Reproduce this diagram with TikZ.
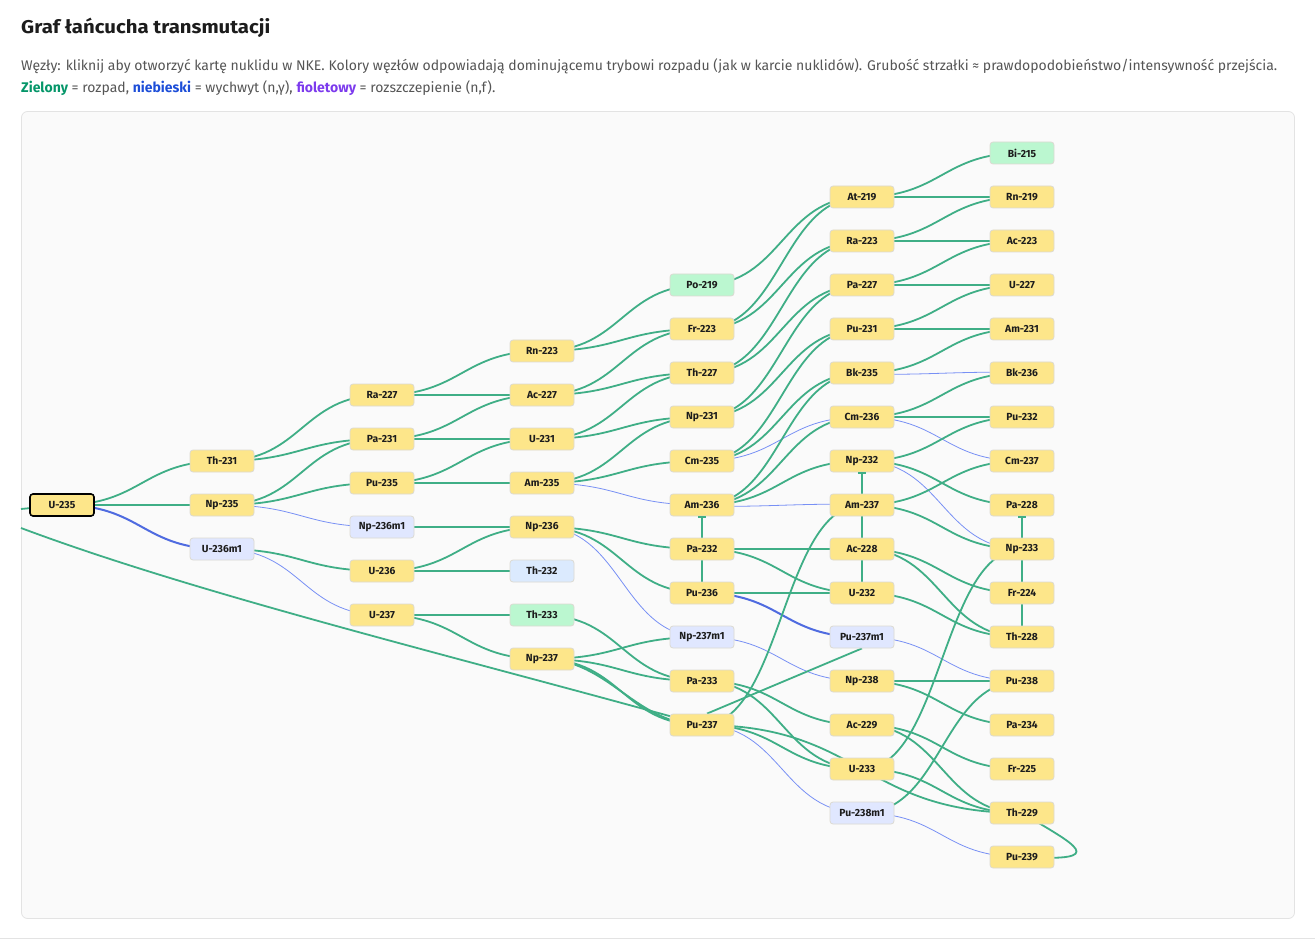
\documentclass[tikz,border=0pt]{standalone}
\usepackage{fontspec}
\setmainfont{Fira Sans}
\usetikzlibrary{calc}
\definecolor{nyel}{HTML}{FDE68A}
\definecolor{ngrn}{HTML}{BBF7D0}
\definecolor{nblu}{HTML}{DBEAFE}
\definecolor{nlav}{HTML}{E0E7FF}
\definecolor{nbrd}{HTML}{DCDAD2}
\definecolor{egrn}{HTML}{3FAE86}
\definecolor{eblu}{HTML}{4F6BE0}
\definecolor{eblt}{HTML}{7890F5}
\definecolor{panelbg}{HTML}{FAFAFA}
\definecolor{panelbd}{HTML}{E3E3E3}
\definecolor{txtgray}{HTML}{555555}
\definecolor{tgreen}{HTML}{059669}
\definecolor{tblue}{HTML}{1D4ED8}
\definecolor{tpurple}{HTML}{7C3AED}
\definecolor{lbl}{HTML}{1C1C1C}
\pgfdeclarelayer{panel}
\pgfdeclarelayer{edges}
\pgfsetlayers{panel,edges,main}
\newcommand\edG[2]{\draw[ge] (#1.center) to[sc] (#2.center);}
\newcommand\edB[2]{\draw[be] (#1.center) to[sc] (#2.center);}
\newcommand\edT[2]{\draw[bt] (#1.center) to[sc] (#2.center);}
\begin{document}
\begin{tikzpicture}[x=1pt,y=-1pt,
  nuc/.style={rectangle,rounded corners=3pt,minimum width=64pt,minimum height=22pt,inner sep=0pt,
    draw=nbrd,line width=0.8pt,font=\fontsize{10.3}{11}\selectfont\bfseries,text=lbl},
  yel/.style={nuc,fill=nyel},
  grn/.style={nuc,fill=ngrn},
  blu/.style={nuc,fill=nblu},
  lav/.style={nuc,fill=nlav},
  ge/.style={draw=egrn,line width=1.8pt},
  be/.style={draw=eblu,line width=2pt},
  bt/.style={draw=eblt,line width=0.8pt},
  tick/.style={draw=egrn,line width=1.3pt},
  sc/.style={to path={let \p1=(\tikztostart),\p2=(\tikztotarget) in
     .. controls ({\x1+#1*(\x2-\x1)},\y1) and ({\x2-#1*(\x2-\x1)},\y2) .. (\tikztotarget)}},
  sc/.default=0.5
]
\useasboundingbox (0,0) rectangle (1315,941);
\begin{pgfonlayer}{panel}
  \draw[draw=panelbd,fill=panelbg,rounded corners=6pt,line width=0.8pt] (21.5,111.5) rectangle (1294.5,918.5);
  \draw[draw=panelbd,line width=0.8pt] (0,938.5) -- (1315,938.5);
\end{pgfonlayer}

% header
\node[anchor=base west,inner sep=0pt,font=\fontsize{18.5}{21}\selectfont\bfseries,text=lbl] (title) at (21,34) {\scalebox{1.1}[1]{Graf łańcucha transmutacji}};
\node[anchor=base west,inner sep=0pt,font=\fontsize{14}{16}\selectfont,text=txtgray] (sub1) at (21,71)
  {Węzły: kliknij aby otworzyć kartę nuklidu w NKE. Kolory węzłów odpowiadają dominującemu trybowi rozpadu (jak w karcie nuklidów). Grubość strzałki ≈ prawdopodobieństwo/intensywność przejścia.};
\node[anchor=base west,inner sep=0pt,font=\fontsize{14}{16}\selectfont,text=txtgray] (sub2) at (21,93)
  {\textcolor{tgreen}{\bfseries Zielony} = rozpad, \textcolor{tblue}{\bfseries niebieski} = wychwyt (n,γ), \textcolor{tpurple}{\bfseries fioletowy} = rozszczepienie (n,f).};

% column 0
\node[yel,draw=black,line width=1.6pt] (U235) at (62,505) {U-235};
% column 1
\node[yel] (Th231) at (222,461) {Th-231};
\node[yel] (Np235) at (222,505) {Np-235};
\node[lav] (U236m1) at (222,549) {U-236m1};
% column 2
\node[yel] (Ra227) at (382,395) {Ra-227};
\node[yel] (Pa231) at (382,439) {Pa-231};
\node[yel] (Pu235) at (382,483) {Pu-235};
\node[lav] (Np236m1) at (382,527) {Np-236m1};
\node[yel] (U236) at (382,571) {U-236};
\node[yel] (U237) at (382,615) {U-237};
% column 3
\node[yel] (Rn223) at (542,351) {Rn-223};
\node[yel] (Ac227) at (542,395) {Ac-227};
\node[yel] (U231) at (542,439) {U-231};
\node[yel] (Am235) at (542,483) {Am-235};
\node[yel] (Np236) at (542,527) {Np-236};
\node[blu] (Th232) at (542,571) {Th-232};
\node[grn] (Th233) at (542,615) {Th-233};
\node[yel] (Np237) at (542,659) {Np-237};
% column 4
\node[grn] (Po219) at (702,285) {Po-219};
\node[yel] (Fr223) at (702,329) {Fr-223};
\node[yel] (Th227) at (702,373) {Th-227};
\node[yel] (Np231) at (702,417) {Np-231};
\node[yel] (Cm235) at (702,461) {Cm-235};
\node[yel] (Am236) at (702,505) {Am-236};
\node[yel] (Pa232) at (702,549) {Pa-232};
\node[yel] (Pu236) at (702,593) {Pu-236};
\node[lav] (Np237m1) at (702,637) {Np-237m1};
\node[yel] (Pa233) at (702,681) {Pa-233};
\node[yel] (Pu237) at (702,725) {Pu-237};
% column 5
\node[yel] (At219) at (862,197) {At-219};
\node[yel] (Ra223) at (862,241) {Ra-223};
\node[yel] (Pa227) at (862,285) {Pa-227};
\node[yel] (Pu231) at (862,329) {Pu-231};
\node[yel] (Bk235) at (862,373) {Bk-235};
\node[yel] (Cm236) at (862,417) {Cm-236};
\node[yel] (Np232) at (862,461) {Np-232};
\node[yel] (Am237) at (862,505) {Am-237};
\node[yel] (Ac228) at (862,549) {Ac-228};
\node[yel] (U232) at (862,593) {U-232};
\node[lav] (Pu237m1) at (862,637) {Pu-237m1};
\node[yel] (Np238) at (862,681) {Np-238};
\node[yel] (Ac229) at (862,725) {Ac-229};
\node[yel] (U233) at (862,769) {U-233};
\node[lav] (Pu238m1) at (862,813) {Pu-238m1};
% column 6
\node[grn] (Bi215) at (1022,153) {Bi-215};
\node[yel] (Rn219) at (1022,197) {Rn-219};
\node[yel] (Ac223) at (1022,241) {Ac-223};
\node[yel] (U227) at (1022,285) {U-227};
\node[yel] (Am231) at (1022,329) {Am-231};
\node[yel] (Bk236) at (1022,373) {Bk-236};
\node[yel] (Pu232) at (1022,417) {Pu-232};
\node[yel] (Cm237) at (1022,461) {Cm-237};
\node[yel] (Pa228) at (1022,505) {Pa-228};
\node[yel] (Np233) at (1022,549) {Np-233};
\node[yel] (Fr224) at (1022,593) {Fr-224};
\node[yel] (Th228) at (1022,637) {Th-228};
\node[yel] (Pu238) at (1022,681) {Pu-238};
\node[yel] (Pa234) at (1022,725) {Pa-234};
\node[yel] (Fr225) at (1022,769) {Fr-225};
\node[yel] (Th229) at (1022,813) {Th-229};
\node[yel] (Pu239) at (1022,857) {Pu-239};

\coordinate (lftA) at (21,509);
\coordinate (lftB) at (21,528);

\begin{pgfonlayer}{edges}
% 0 -> 1
\edG{U235}{Th231} \edG{U235}{Np235} \edB{U235}{U236m1}
% 1 -> 2
\edG{Th231}{Ra227} \edG{Th231}{Pa231} \edG{Np235}{Pa231} \edG{Np235}{Pu235}
\edT{Np235}{Np236m1} \edG{U236m1}{U236} \edT{U236m1}{U237}
% 2 -> 3
\edG{Ra227}{Rn223} \edG{Ra227}{Ac227} \edG{Pa231}{Ac227} \edG{Pa231}{U231}
\edG{Pu235}{U231} \edG{Pu235}{Am235} \edG{Np236m1}{Np236} \edG{U236}{Np236}
\edG{U236}{Th232} \edG{U237}{Th233} \edG{U237}{Np237}
% 3 -> 4
\edG{Rn223}{Po219} \edG{Rn223}{Fr223} \edG{Ac227}{Fr223} \edG{Ac227}{Th227}
\edG{U231}{Th227} \edG{U231}{Np231} \edG{Am235}{Np231} \edG{Am235}{Cm235}
\edT{Am235}{Am236} \edG{Np236}{Pa232} \edG{Np236}{Pu236} \edT{Np236}{Np237m1}
\edG{Th233}{Pa233} \edG{Np237}{Np237m1} \edG{Np237}{Pa233} \edG{Np237}{Pu237}
\draw[ge] (Np237.center) to[sc=0.42] (Pu237.center);
% 4 -> 5
\edG{Po219}{At219} \edG{Fr223}{At219} \edG{Fr223}{Ra223} \edG{Th227}{Ra223}
\edG{Th227}{Pa227} \edG{Np231}{Pa227} \edG{Np231}{Pu231} \edG{Cm235}{Pu231}
\edG{Cm235}{Bk235} \edT{Cm235}{Cm236} \edG{Am236}{Bk235} \edG{Am236}{Cm236}
\edG{Am236}{Np232} \draw[bt] ([yshift=-1.5pt]Am236.center) to[sc] ([yshift=1pt]Am237.center);
\edG{Pa232}{Ac228} \edG{Pa232}{U232}
\edG{Pu236}{U232} \edB{Pu236}{Pu237m1} \edT{Np237m1}{Np238} \edG{Pa233}{Ac229}
\edG{Pa233}{U233} \edG{Pu237}{U233} \edG{Pu237}{Th229} \edT{Pu237}{Pu238m1}
\edG{Pu237}{Am237}
% 5 -> 6
\edG{At219}{Bi215} \edG{At219}{Rn219} \edG{Ra223}{Rn219} \edG{Ra223}{Ac223}
\edG{Pa227}{Ac223} \edG{Pa227}{U227} \edG{Pu231}{U227} \edG{Pu231}{Am231}
\edG{Bk235}{Am231} \draw[bt] ([yshift=-1.5pt]Bk235.center) to[sc] ([yshift=1pt]Bk236.center);
\edG{Cm236}{Bk236} \edG{Cm236}{Pu232}
\edT{Cm236}{Cm237} \edG{Np232}{Pu232} \edG{Np232}{Pa228} \edT{Np232}{Np233}
\edG{Am237}{Cm237} \edG{Am237}{Np233} \edG{Ac228}{Fr224} \edG{Ac228}{Th228}
\edG{U232}{Th228} \edT{Pu237m1}{Pu238} \edG{Np238}{Pu238} \edG{Np238}{Pa234}
\edG{Ac229}{Fr225} \edG{Ac229}{Th229} \edG{U233}{Th229} \edG{Pu238m1}{Pu238}
\edT{Pu238m1}{Pu239} \edG{U233}{Np233}
% vertical chains
\draw[ge] (Am236.center) -- (Pu236.center);
\draw[ge] (Np232.center) -- (U232.center);
\draw[ge] (Pa228.center) -- (Th228.center);
% irregular connectors
\draw[ge] ([xshift=5pt]Pu237.north) -- (Pu237m1.south);
\draw[ge] (lftA) -- (U235.center);
\draw[ge] (lftB) .. controls (200,595) and (450,655) .. (Pu237.center);
\draw[ge] (Th229.center) .. controls (1075,845) and (1112,862) .. (Pu239.center);
\end{pgfonlayer}

% bar ends of the vertical chains
\draw[tick] ([xshift=-4pt,yshift=-0.6pt]Am236.south) -- ([xshift=4pt,yshift=-0.6pt]Am236.south);
\draw[tick] ([xshift=-4pt,yshift=-0.6pt]Np232.south) -- ([xshift=4pt,yshift=-0.6pt]Np232.south);
\draw[tick] ([xshift=-4pt,yshift=-0.6pt]Pa228.south) -- ([xshift=4pt,yshift=-0.6pt]Pa228.south);
\end{tikzpicture}
\end{document}
